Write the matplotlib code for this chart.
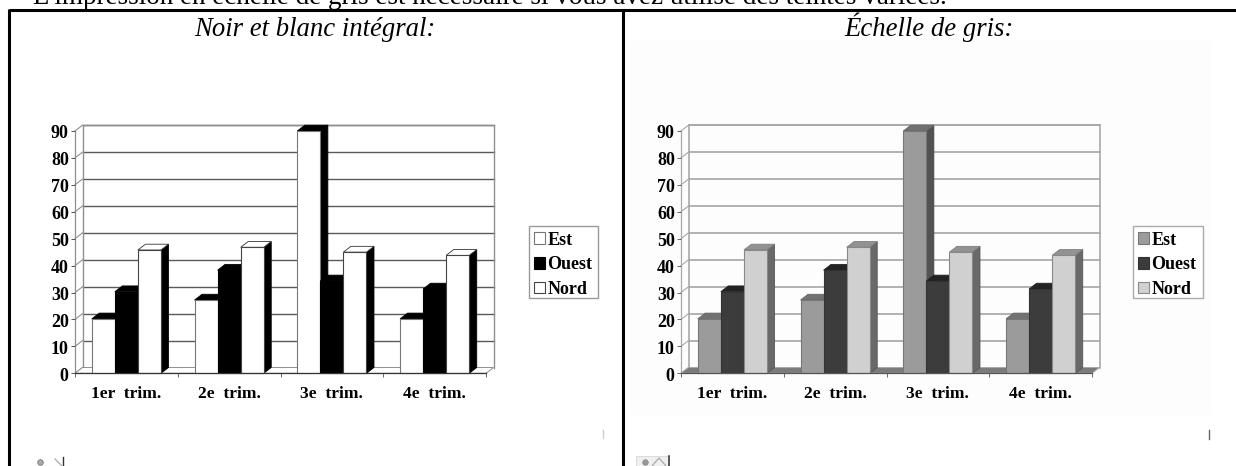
import matplotlib
matplotlib.use("Agg")
import matplotlib.pyplot as plt
from matplotlib.patches import Polygon, Rectangle, Patch
from matplotlib.transforms import ScaledTranslation

W, H = 1236, 466
categories = ["1er  trim.", "2e  trim.", "3e  trim.", "4e  trim."]
series_names = ["Est", "Ouest", "Nord"]
est = [20.2, 27.2, 90, 20.2]
ouest = [30.3, 38.3, 34.3, 31.3]
nord = [45.8, 46.8, 45, 43.8]
y_ticks = [0, 10, 20, 30, 40, 50, 60, 70, 80, 90]
heading = "L'impression en échelle de gris est nécessaire si vous avez utilisé des teintes variées."
title_left = "Noir et blanc intégral:"
title_right = "Échelle de gris:"

plt.rcParams["font.family"] = ["Liberation Serif", "DejaVu Serif"]
fig = plt.figure(figsize=(W / 100, H / 100), dpi=100, facecolor="white")

bg = fig.add_axes([0, 0, 1, 1], zorder=0)
bg.set_xlim(0, W)
bg.set_ylim(H, 0)
bg.axis("off")

# document furniture
bg.add_patch(Rectangle((630, 41), 581, 374, fc="#fdfdfd", ec="none"))
bg.plot([9, W], [10, 10], color="black", lw=2.2, solid_capstyle="butt")
bg.plot([9, 9], [9, H], color="black", lw=2.2, solid_capstyle="butt")
bg.plot([623, 623], [10, H], color="black", lw=2.2, solid_capstyle="butt")
bg.text(33, 4, heading, fontsize=19.5, color="black", va="baseline", ha="left", clip_on=False)
bg.text(315, 36.5, title_left, fontsize=19.3, style="italic", ha="center", va="baseline")
bg.text(929, 36.5, title_right, fontsize=19.3, style="italic", ha="center", va="baseline")
bg.plot([603, 603], [430, 438], color="#cccccc", lw=1)
bg.plot([1209, 1209], [430, 439], color="#666666", lw=1)
# small broken-image icons
bg.plot([40], [462], "o", ms=4, mfc="#aaaaaa", mec="#777777", mew=0.6)
bg.plot([55, 62], [459, 466], color="#aaaaaa", lw=0.9)
bg.plot([63, 63], [457, 466], color="#333333", lw=1)
bg.add_patch(Rectangle((636, 456), 33, 12, fc="#f0f0f0", ec="#dddddd", lw=0.8))
bg.plot([645], [462], "o", ms=4, mfc="#999999", mec="#888888", mew=0.5)
bg.plot([652, 659, 666], [466, 458, 466], color="#aaaaaa", lw=0.9)
bg.plot([669, 669], [456, 466], color="#333333", lw=1.1)


def chart(x0, x1, style, legend_x, legend_w):
    y_zero, y_top = 373.3, 131.0
    ax = fig.add_axes([x0 / W, 1 - y_zero / H, (x1 - x0) / W, (y_zero - y_top) / H],
                      facecolor="none", zorder=2)
    ax.set_xlim(0, len(categories))
    ax.set_ylim(0, 90)
    # depth of the fake 3-D box, converted to data units
    dx = 7.5 / ((x1 - x0) / len(categories))
    dy = 5.8 / ((y_zero - y_top) / 90)
    top = 90 + dy
    n = len(categories)

    wall = style["wall"]
    for v in y_ticks:
        if v:
            ax.plot([dx, n + dx], [v + dy, v + dy], color=style["grid"], lw=style["glw"], clip_on=False, zorder=1)
        ax.plot([0, dx], [v, v + dy], color=wall, lw=0.8, clip_on=False, zorder=1)
    ax.plot([dx, dx, n + dx, n + dx], [dy, top, top, dy], color=wall, lw=style["glw"], clip_on=False, zorder=1)
    ax.plot([0, 0], [0, 90], color=wall, lw=0.9, clip_on=False, zorder=1)
    ax.add_patch(Polygon([(0, 0), (dx, dy), (n + dx, dy), (n, 0)], closed=True, fc=style["floor"],
                         ec=wall, lw=0.7, clip_on=False, zorder=1.5))

    bar_w = 0.2245
    start = (1 - 3 * bar_w) / 2
    z = 3.0
    for i in range(n):
        for j, vals in enumerate([est, ouest, nord]):
            left = i + start + j * bar_w
            v = vals[i]
            s = style["series"][j]
            right = left + bar_w
            ax.add_patch(Polygon([(right, 0), (right + dx, dy), (right + dx, v + dy), (right, v)], closed=True,
                                 fc=s["side"], ec=s["side_edge"], lw=0.6, clip_on=False, zorder=z))
            ax.add_patch(Polygon([(left, v), (left + dx, v + dy), (right + dx, v + dy), (right, v)], closed=True,
                                 fc=s["top"], ec=s["top_edge"], lw=0.6, clip_on=False, zorder=z))
            ax.bar(left, v, width=bar_w, align="edge", color=s["face"], edgecolor=s["edge"], lw=0.8,
                   clip_on=False, zorder=z + 0.1)
            z += 0.2

    ax.set_xticks(range(n + 1))
    ax.set_xticklabels([""] * (n + 1))
    ax.tick_params(axis="x", length=3.2, width=0.7, color=style["xtick"], pad=2)
    for i, c in enumerate(categories):
        ax.text(i + 0.5, -7.7, c, ha="center", va="center", fontsize=12.6, fontweight="bold")
    ax.set_yticks(y_ticks)
    ax.set_yticklabels([str(v) for v in y_ticks], fontsize=13, fontweight="bold")
    ax.tick_params(axis="y", length=3, width=0.7, color=style["ytick"], pad=1.5)
    shift = ScaledTranslation(0, -1 / 100, fig.dpi_scale_trans)
    for t in ax.get_yticklabels():
        t.set_transform(t.get_transform() + shift)
    for k, sp in ax.spines.items():
        sp.set_visible(k == "bottom")
    ax.spines["bottom"].set_color(style["base"])
    ax.spines["bottom"].set_linewidth(0.9)
    ax.spines["bottom"].set_zorder(20)

    bg.add_patch(Rectangle((legend_x, 225.5), legend_w, 72.3, fc="white", ec=style["leg"], lw=1.0))
    handles = [Patch(fc=s["face"], ec=s["edge"], lw=0.8) for s in style["series"]]
    fig.legend(handles, series_names, loc="upper left", bbox_to_anchor=(legend_x / W, 1 - 226.5 / H),
               borderaxespad=0, frameon=False,
               prop={"size": 13, "weight": "bold"}, handlelength=0.62, handleheight=0.62, handletextpad=0.12,
               labelspacing=0.42, borderpad=0.28)


bw = {"wall": "#8f8f8f", "grid": "#5a5a5a", "glw": 1.0, "floor": "white", "xtick": "#666666",
      "ytick": "#555555", "base": "#333333", "leg": "#999999",
      "series": [
          dict(face="white", edge="#777777", top="black", top_edge="black", side="black", side_edge="black"),
          dict(face="black", edge="black", top="black", top_edge="black", side="black", side_edge="black"),
          dict(face="white", edge="#444444", top="white", top_edge="#333333", side="black", side_edge="black"),
      ]}
gray = {"wall": "#a8a8a8", "grid": "#a5a5a5", "glw": 1.2, "floor": "#7b7b7b", "xtick": "#666666",
        "ytick": "#666666", "base": "#555555", "leg": "#aaaaaa",
        "series": [
            dict(face="#9b9b9b", edge="#777777", top="#727272", top_edge="#666666", side="#525252", side_edge="#444444"),
            dict(face="#3c3c3c", edge="#333333", top="#222222", top_edge="#222222", side="#303030", side_edge="#303030"),
            dict(face="#d0d0d0", edge="#888888", top="#929292", top_edge="#808080", side="#696969", side_edge="#555555"),
        ]}

chart(75, 486, bw, 529, 69)
chart(681, 1092, gray, 1133, 70)
fig.savefig("out.png", dpi=100)
